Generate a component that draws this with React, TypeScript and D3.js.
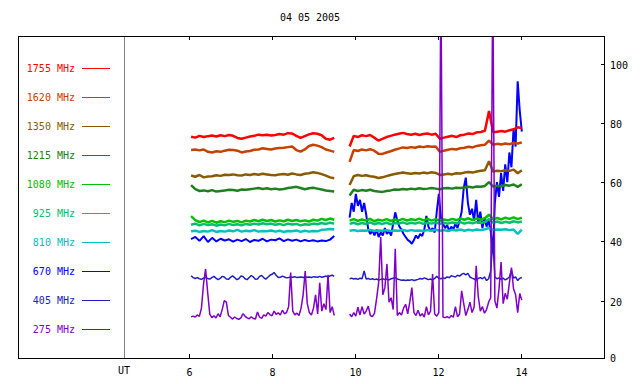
import React from 'react';
import * as d3 from 'd3';

const TITLE = '04 05 2005';
const labels = ['1755 MHz', '1620 MHz', '1350 MHz', '1215 MHz', '1080 MHz', '925 MHz', '810 MHz', '670 MHz', '405 MHz', '275 MHz'];
const colors = ['#ff0000', '#c84000', '#8a5a00', '#208020', '#00c000', '#00c070', '#00c0c0', '#0000ff', '#2020c0', '#8000c8'];
const xTicks = [6, 8, 10, 12, 14];
const yTicks = [0, 20, 40, 60, 80, 100];
const seg1Range = [6.05, 9.5];
const seg2Range = [9.87, 14.02];
const utHour = 4.43;

const s1755a = [75.3, 75.0, 75.6, 75.2, 75.5, 75.7, 75.4, 75.8, 75.5, 75.9, 75.6, 74.9, 74.6, 75.0, 75.4, 75.6, 76.0, 75.8, 76.0, 75.7, 75.9, 76.2, 76.0, 76.5, 76.4, 75.6, 74.9, 75.5, 76.1, 76.5, 76.3, 75.8, 74.6, 74.3, 74.9];
const s1755b = [72.0, 75.6, 75.2, 75.8, 75.5, 75.9, 75.0, 74.0, 74.6, 75.2, 75.6, 76.0, 76.3, 76.6, 76.2, 76.0, 76.3, 75.9, 76.2, 76.4, 76.0, 76.3, 74.6, 75.0, 75.3, 75.6, 75.2, 75.8, 76.0, 76.4, 76.2, 76.8, 76.9, 77.3, 84.0, 76.8, 77.0, 77.2, 77.0, 77.5, 77.8, 78.5, 78.2];
const s1620a = [70.8, 71.0, 70.7, 71.0, 70.2, 70.0, 70.4, 70.2, 70.6, 70.9, 70.8, 70.6, 70.0, 70.3, 70.5, 70.9, 71.0, 71.4, 71.2, 71.0, 71.3, 71.5, 71.6, 71.8, 72.0, 70.8, 70.3, 71.0, 72.2, 72.6, 72.3, 71.8, 71.0, 70.6, 70.2];
const s1620b = [66.8, 70.8, 70.5, 71.0, 70.7, 71.1, 70.6, 69.6, 69.5, 70.0, 70.4, 70.9, 71.3, 71.7, 71.5, 71.8, 71.6, 72.0, 71.8, 72.1, 71.9, 72.0, 70.2, 70.6, 70.9, 71.2, 71.0, 71.4, 71.6, 71.9, 71.7, 72.2, 72.4, 72.6, 74.0, 72.6, 72.9, 72.7, 73.0, 72.8, 73.2, 73.0, 73.4];
const s1350a = [62.2, 61.8, 62.4, 61.6, 61.9, 62.0, 62.3, 62.1, 62.5, 62.4, 62.6, 62.3, 62.2, 62.6, 62.4, 62.7, 62.5, 62.8, 62.6, 62.4, 62.3, 62.6, 62.7, 62.5, 62.9, 62.6, 62.4, 62.8, 63.0, 63.3, 63.1, 62.7, 62.2, 61.6, 61.3];
const s1350b = [59.0, 62.0, 62.4, 62.1, 62.3, 62.0, 61.8, 61.4, 61.6, 62.0, 62.4, 62.7, 63.0, 63.2, 63.0, 62.8, 63.1, 62.9, 63.2, 63.0, 63.3, 63.1, 62.4, 62.6, 62.8, 62.6, 63.0, 62.9, 63.2, 63.4, 63.2, 63.6, 63.8, 64.0, 67.0, 63.6, 63.8, 63.7, 64.0, 63.8, 64.2, 63.0, 64.0];
const s1215a = [59.0, 57.6, 57.0, 57.2, 56.9, 57.3, 56.8, 57.0, 57.2, 57.4, 57.3, 57.1, 57.5, 57.4, 57.6, 57.8, 58.0, 57.7, 57.9, 57.6, 57.8, 57.5, 57.7, 58.0, 58.2, 58.4, 58.0, 57.6, 57.9, 58.1, 57.8, 57.5, 57.2, 57.0, 56.8];
const s1215b = [55.5, 57.4, 57.0, 57.3, 57.1, 57.4, 57.0, 56.8, 56.7, 57.0, 57.2, 57.5, 57.4, 57.7, 57.5, 57.8, 57.6, 57.9, 57.7, 57.8, 58.0, 57.8, 57.6, 57.9, 58.0, 57.8, 58.1, 58.0, 58.2, 58.4, 58.2, 58.5, 58.4, 58.7, 60.0, 58.5, 58.8, 58.6, 59.0, 58.8, 59.2, 58.4, 59.3];
const s1080a = [48.5, 47.2, 46.5, 47.0, 46.4, 46.9, 46.3, 46.8, 46.5, 47.0, 46.6, 46.9, 46.4, 47.0, 46.7, 47.2, 46.8, 47.3, 46.9, 47.2, 46.7, 47.1, 46.8, 47.3, 46.9, 47.2, 46.8, 47.1, 46.7, 47.3, 47.0, 47.6, 47.2, 47.7, 47.3];
const s1080b = [47.0, 47.5, 46.9, 47.4, 47.0, 47.6, 46.8, 47.3, 47.0, 47.5, 46.9, 47.4, 47.1, 47.6, 47.0, 47.5, 47.2, 47.7, 47.1, 47.6, 47.0, 47.5, 46.9, 47.4, 47.1, 47.6, 47.2, 47.7, 47.3, 47.8, 47.2, 47.7, 47.3, 47.8, 49.0, 47.5, 47.9, 47.4, 48.0, 47.6, 48.1, 47.5, 48.0];
const s925a = [45.6, 46.0, 45.4, 45.9, 45.5, 45.8, 45.3, 45.7, 45.4, 45.9, 45.5, 45.8, 45.4, 45.9, 45.6, 46.0, 45.7, 46.1, 45.8, 46.0, 45.6, 45.9, 45.5, 46.0, 45.7, 45.9, 45.4, 45.8, 45.6, 46.0, 45.8, 46.2, 45.9, 46.3, 46.0];
const s925b = [45.9, 46.3, 45.8, 46.2, 45.9, 46.4, 45.8, 46.2, 45.9, 46.3, 45.8, 46.2, 46.0, 46.4, 45.9, 46.3, 46.0, 46.4, 45.9, 46.3, 46.0, 46.4, 45.9, 46.3, 46.0, 46.4, 46.1, 46.5, 46.0, 46.4, 46.1, 46.5, 46.2, 46.6, 47.5, 46.3, 46.7, 46.2, 46.6, 46.3, 46.8, 46.4, 46.7];
const s810a = [43.4, 43.6, 43.2, 43.5, 43.3, 43.8, 43.2, 43.5, 43.3, 43.7, 43.4, 43.9, 43.3, 43.6, 43.4, 43.8, 43.3, 43.5, 43.4, 43.7, 43.3, 43.6, 43.2, 43.5, 43.4, 43.7, 43.2, 43.6, 43.3, 43.5, 43.4, 43.9, 44.0, 44.2, 44.0];
const s810b = [43.6, 43.8, 43.5, 43.7, 43.6, 43.9, 43.5, 43.7, 43.6, 43.8, 43.5, 43.7, 43.6, 43.9, 43.5, 43.8, 43.6, 43.7, 43.5, 43.8, 43.6, 43.9, 43.6, 43.8, 43.5, 43.9, 43.7, 44.0, 43.6, 43.9, 43.7, 44.0, 43.8, 44.1, 44.5, 43.8, 44.0, 43.9, 44.1, 43.8, 44.0, 42.5, 44.0];
const s670a = [40.8, 41.5, 40.2, 41.8, 39.8, 41.2, 40.0, 40.9, 40.3, 40.7, 39.9, 40.6, 40.1, 40.8, 39.8, 40.5, 40.2, 40.9, 40.0, 40.6, 40.4, 41.0, 40.1, 40.7, 40.2, 40.6, 40.0, 40.5, 40.1, 40.4, 40.0, 40.3, 40.1, 40.6, 41.8];
const s670b = [48, 53, 50, 56, 52, 54, 50, 53, 49, 44, 42.5, 43.8, 42, 44, 41.5, 43, 42, 44.5, 42.5, 43.5, 42, 46, 49.8, 47, 45, 44, 42.5, 41.5, 40.5, 40, 39.2, 40.5, 42, 41, 42.5, 41.8, 44, 48.6, 45, 43.5, 44.5, 43, 50, 56, 48, 46, 44.5, 45.5, 43.5, 45, 44, 46, 44.5, 47, 50, 58, 61.5, 53, 49, 51, 47, 54, 46, 50, 44.5, 48, 45, 47, 43.5, 36, 53, 60, 55, 63, 57, 66, 60, 70, 65, 78, 72, 94, 84, 77];
const s405a = [28.4, 27.8, 27.5, 27.8, 27.4, 27.2, 27.6, 27.9, 27.5, 27.3, 27.8, 28.2, 27.6, 27.1, 27.5, 28.2, 28.0, 27.3, 27.2, 27.9, 28.4, 27.8, 27.1, 27.4, 28.3, 28.2, 27.4, 27.1, 27.8, 28.5, 28.0, 27.2, 27.3, 28.2, 28.5, 27.8, 27.3, 27.9, 28.6, 28.9, 29.5, 28.6, 27.8, 27.9, 28.3, 28.0, 27.7, 27.8, 28.0, 27.9, 28.1, 27.8, 27.9, 28.0, 27.8, 28.1, 27.9, 28.0, 27.8, 28.1, 28.0, 27.9, 28.2, 27.9, 28.1, 28.3, 28.0, 28.4, 28.6, 28.2];
const s405b = [27.4, 27.6, 27.3, 27.5, 27.2, 27.6, 27.4, 30.0, 27.3, 27.5, 27.2, 27.4, 27.1, 27.3, 27.0, 27.2, 27.4, 27.1, 27.3, 27.0, 27.4, 27.6, 27.8, 27.3, 27.1, 26.9, 27.0, 26.8, 27.0, 26.9, 27.1, 26.8, 27.0, 27.2, 27.5, 27.3, 27.7, 27.4, 27.1, 27.3, 27.0, 27.5, 28.2, 27.6, 27.4, 27.7, 27.5, 28.0, 27.8, 28.4, 28.2, 28.0, 28.6, 28.3, 28.9, 29.2, 28.7, 29.2, 28.0, 27.6, 27.3, 27.0, 27.5, 27.8, 27.4, 28.0, 26.8, 27.4, 30.0, 40.5, 28.0, 27.4, 27.7, 27.2, 27.6, 27.0, 27.4, 28.0, 30.3, 27.6, 28.0, 26.8, 27.6, 27.8];
const s275a = [14.6, 14.8, 14.5, 15.2, 14.7, 17.5, 25.6, 30.7, 22.8, 15.5, 14.3, 14.9, 14.2, 15.6, 14.6, 17.0, 20.0, 19.5, 15.0, 14.4, 13.8, 14.5, 14.0, 13.7, 14.2, 15.6, 14.8, 14.2, 13.9, 14.6, 14.0, 13.8, 16.2, 14.5, 14.0, 15.2, 14.8, 16.0, 15.3, 14.9, 16.5, 15.4, 15.9, 15.2, 16.8, 15.6, 16.0, 18.0, 29.5, 16.5, 15.2, 15.8, 15.0, 17.5, 22.0, 30.0, 19.0, 16.0, 15.2, 17.5, 22.0, 15.5, 26.0, 16.5, 19.0, 17.0, 28.7, 16.0, 18.0, 15.0];
const s275b = [15.5, 14.6, 16.0, 14.8, 17.8, 15.2, 18.0, 15.5, 16.5, 18.2, 15.0, 14.6, 15.8, 20.6, 26.1, 41.5, 22.0, 24.4, 32.4, 19.5, 21.0, 17.0, 37.5, 15.0, 16.0, 15.2, 17.5, 18.8, 15.6, 19.5, 24.4, 16.0, 15.0, 16.8, 14.8, 15.6, 14.5, 18.0, 15.2, 16.5, 29.0, 15.5, 14.8, 16.0, 130, 14.5, 14.3, 14.6, 14.2, 15.0, 14.4, 18.0, 14.6, 15.5, 23.3, 19.0, 15.0, 17.0, 19.5, 16.0, 17.8, 31.8, 21.5, 16.5, 18.0, 15.8, 17.0, 19.5, 21.0, 130, 20.0, 17.5, 24.0, 33.0, 19.0, 22.5, 20.5, 26.0, 31.2, 24.0, 22.0, 16.0, 22.4, 20.2];

// series in legend order (index matches labels/colors)
const seriesA = [s1755a, s1620a, s1350a, s1215a, s1080a, s925a, s810a, s670a, s405a, s275a];
const seriesB = [s1755b, s1620b, s1350b, s1215b, s1080b, s925b, s810b, s670b, s405b, s275b];
const drawOrder = [7, 8, 6, 5, 4, 3, 2, 1, 0, 9];

const W = 640, H = 384;
const frame = { left: 18, right: 604, top: 36, bottom: 358 };
const FONT = '"DejaVu Sans Mono", monospace';

export default function App() {
  const x = d3.scaleLinear().domain([6, 14]).range([189, 521]);
  const y = d3.scaleLinear().domain([0, 100]).range([360, 63.5]);

  const pathFor = (vals: number[], range: number[]) => {
    const n = vals.length;
    const t = (i: number) => range[0] + ((range[1] - range[0]) * i) / (n - 1);
    return d3.line<number>().x((_, i) => x(t(i))).y((d) => y(d))(vals) || '';
  };
  const widthFor = (k: number) => (k === 9 ? 1.5 : k === 8 ? 1.5 : k === 7 ? 2 : 2.5);

  const legendY = (i: number) => 68 + 29 * i;

  return (
    <svg width={W} height={H} style={{ position: 'absolute', left: 0, top: 0, background: '#fff' }} fontFamily={FONT} fontSize={10}>
      <defs>
        <clipPath id="plotclip">
          <rect x={frame.left} y={frame.top} width={frame.right - frame.left} height={frame.bottom - frame.top} />
        </clipPath>
      </defs>
      <rect x={0} y={0} width={W} height={H} fill="#fff" />
      <text x={310} y={21} textAnchor="middle" fill="#000">{TITLE}</text>

      {/* UT divider */}
      <line x1={Math.round(x(utHour)) + 0.5} x2={Math.round(x(utHour)) + 0.5} y1={frame.top} y2={frame.bottom} stroke="#808080" strokeWidth={1} />

      {/* data */}
      <g clipPath="url(#plotclip)">
        {drawOrder.map((k) => (
          <g key={k}>
            <path d={pathFor(seriesA[k], seg1Range)} fill="none" stroke={colors[k]} strokeWidth={widthFor(k)} strokeLinejoin="bevel" />
            <path d={pathFor(seriesB[k], seg2Range)} fill="none" stroke={colors[k]} strokeWidth={widthFor(k)} strokeLinejoin="bevel" />
          </g>
        ))}
      </g>

      {/* frame */}
      <rect x={frame.left + 0.5} y={frame.top + 0.5} width={frame.right - frame.left} height={frame.bottom - frame.top} fill="none" stroke="#000" strokeWidth={1} />

      {/* x ticks */}
      {xTicks.map((t) => {
        const px = Math.round(x(t)) + 0.5;
        return (
          <g key={t}>
            <line x1={px} x2={px} y1={frame.bottom} y2={frame.bottom - 4} stroke="#000" />
            <line x1={px} x2={px} y1={frame.top} y2={frame.top + 4} stroke="#000" />
            <text x={px} y={376} textAnchor="middle" fill="#000">{t}</text>
          </g>
        );
      })}
      <text x={Math.round(x(utHour))} y={374} textAnchor="middle" fill="#000">UT</text>

      {/* y ticks on right */}
      {yTicks.map((v) => {
        const py = Math.round(y(v)) + 0.5;
        return (
          <g key={v}>
            {v > 0 && <line x1={frame.right - 3} x2={frame.right} y1={py} y2={py} stroke="#000" />}
            <text x={610} y={Math.min(py, frame.bottom) + 4} fill="#000">{v}</text>
          </g>
        );
      })}

      {/* legend */}
      {labels.map((l, i) => (
        <g key={l}>
          <text x={75} y={legendY(i) + 3.5} textAnchor="end" fill={colors[i]}>{l}</text>
          <line x1={82} x2={110} y1={legendY(i) + 0.5} y2={legendY(i) + 0.5} stroke={colors[i]} strokeWidth={1} />
        </g>
      ))}
    </svg>
  );
}
